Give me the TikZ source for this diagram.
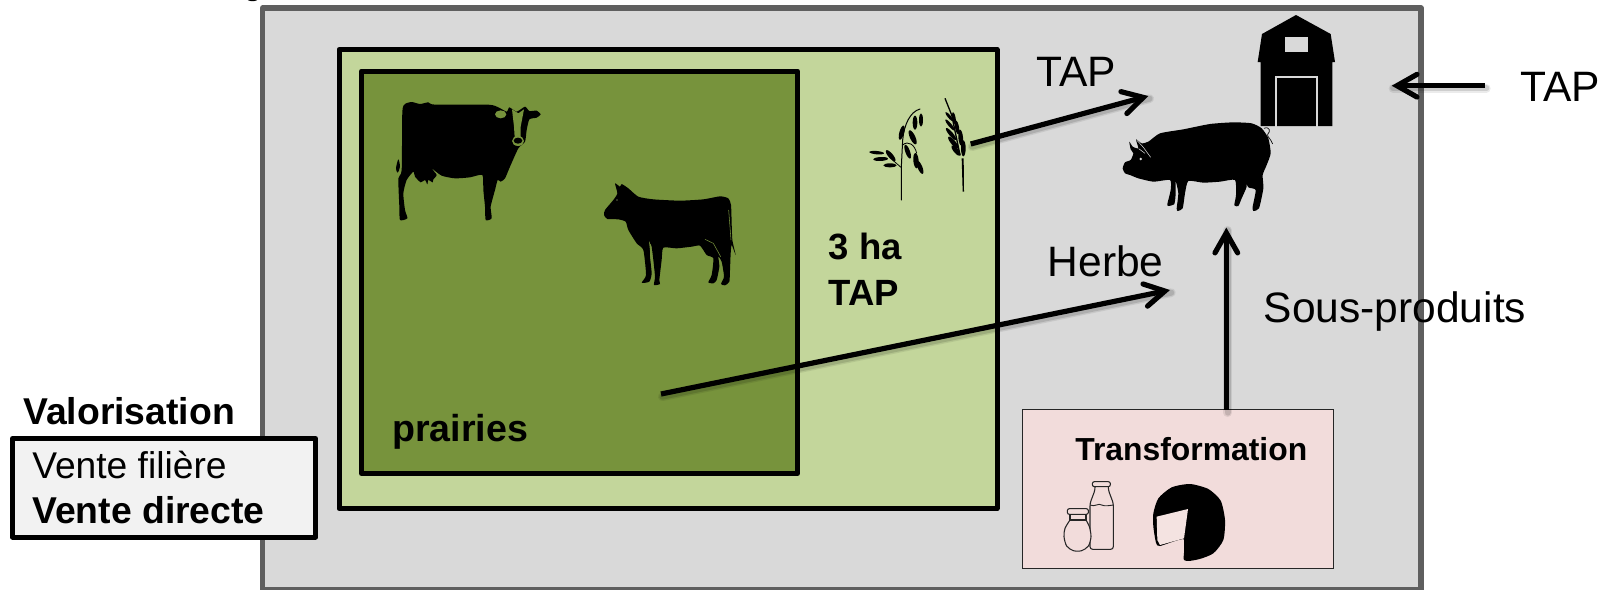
\documentclass[tikz,border=0pt]{standalone}
\usepackage{fontspec}
\setmainfont{Liberation Sans}
\usetikzlibrary{arrows.meta}
\definecolor{fermegris}{HTML}{D9D9D9}
\definecolor{contour}{HTML}{5F5F5F}
\definecolor{vertclair}{HTML}{C3D69B}
\definecolor{vertfonce}{HTML}{77933C}
\definecolor{rose}{HTML}{F2DCDB}
\definecolor{rosepale}{HTML}{F4E3E1}
\definecolor{boite}{HTML}{F2F2F2}
\newcommand\fs[1]{\fontsize{#1}{#1}\selectfont}
\newcommand\grain[5]{\fill[shift={(#1,#2)},rotate=#3] (0,0) ellipse [x radius=#4,y radius=#5];}
\newcommand\ombre[3]{%
  \draw[black,opacity=.08,line width=6.5pt,line cap=round,transform canvas={shift={(1pt,-2pt)}}] (#1) -- (#2);
  \draw[black,opacity=.12,line width=4.5pt,line cap=round,transform canvas={shift={(1pt,-2pt)}}] (#1) -- (#2);
  \draw[fleche,line width=#3] (#1) -- (#2);}
\tikzset{
  cadre/.style={draw=black,line width=3.75pt,line join=round},
  lab/.style={inner sep=0pt,anchor=base west,text=black},
  grand/.style={lab,font=\fs{31.9}},
  moyen/.style={lab,font=\fs{27.9}},
  gras/.style={lab,font=\fs{28}\bfseries},
  fleche/.style={draw=black,-{Straight Barb[length=15pt,width=17pt,line width=3.9pt,line cap=round,line join=miter]}},
  trait/.style={draw=#1,line cap=round,line join=round},
}
\begin{document}
\begin{tikzpicture}[x=.75pt,y=-.75pt]
\clip (0,0) rectangle (1612,589);
% fragment at the top edge
\fill[black] (252.5,-1.8) ellipse [x radius=6,y radius=3];
% boxes
\draw[fill=fermegris,draw=contour,line width=3.9pt,line join=round] (262.5,8) rectangle (1421,590);
\draw[cadre,fill=vertclair] (339,49.5) rectangle (997,508.5);
\draw[cadre,fill=vertfonce] (361.5,71) rectangle (797.5,473.5);
\draw[fill=rose,draw=black!85,line width=.8pt] (1022.3,409.5) rectangle (1333.7,568.3);
\draw[cadre,fill=boite] (12.5,438.5) rectangle (315.5,537);

% cows (traced at 3x from origin 370,80)
\begin{scope}[shift={(370,80)},x=.25pt,y=-.25pt]
\fill[black] plot[smooth cycle,tension=.35] coordinates {(97,95) (105,72) (125,66) (150,72) (175,67) (195,74) (355,74) (385,82) (410,95) (418,82) (440,95) (465,80) (478,93) (500,92) (512,103) (500,113) (478,118) (470,150) (465,185) (445,205) (420,260) (405,295) (392,305) (383,300) (375,330) (362,380) (365,415) (347,420) (345,380) (340,330) (337,285) (300,292) (255,295) (215,287) (185,265) (200,285) (190,298) (188,307) (175,300) (172,313) (165,300) (152,307) (135,290) (130,275) (110,300) (100,340) (105,390) (112,415) (90,420) (88,380) (85,295) (95,270)};
\fill[black] plot[smooth cycle,tension=.5] coordinates {(78,265) (85,238) (90,260) (83,278)};
\fill[vertfonce] (392,103) ellipse [x radius=17,y radius=12];
\fill[vertfonce] (426,88) -- (432,140) -- (434,172) -- (452,172) -- (452,140) -- (462,88) -- (445,100) -- cycle;
\fill[vertfonce] (444,183) ellipse [x radius=18,y radius=15];
\fill[black] (444,182) ellipse [x radius=13,y radius=9];
\fill[black] plot[smooth cycle,tension=.35] coordinates {(735,310) (750,320) (755,312) (775,325) (805,350) (850,358) (930,362) (1000,358) (1050,349) (1075,355) (1083,375) (1085,430) (1087,480) (1097,525) (1085,495) (1082,520) (1080,570) (1078,605) (1065,616) (1053,612) (1062,590) (1055,545) (1045,530) (1048,560) (1040,600) (1030,610) (1015,607) (1025,585) (1030,535) (1010,525) (990,497) (965,500) (920,505) (880,503) (875,540) (868,600) (870,612) (852,615) (855,590) (850,540) (845,500) (840,490) (840,530) (845,580) (838,605) (815,608) (828,585) (820,510) (800,490) (775,450) (767,425) (745,418) (712,417) (702,405) (705,390) (730,360) (742,340)};
\draw[vertfonce,line width=.4pt] (1005,478) -- (1030,490) -- (1052,530);
\draw[vertfonce,line width=.4pt] (1076,390) -- (1083,480);
\draw[vertfonce,line width=.4pt] (838,485) -- (846,560);
\fill[vertclair] (741,360) circle [radius=2];
\end{scope}

% cereals (origin 860,90)
\begin{scope}[shift={(860,90)},x=.25pt,y=-.25pt,black]
\draw[line width=.75pt,line cap=round] (124,330) -- (124,230) -- (128,150) .. controls (132,105) and (150,65) .. (180,57);
\draw[line width=.6pt] (123,232) -- (100,212) -- (80,190);
\draw[line width=.6pt] (128,165) .. controls (145,150) and (165,165) .. (170,190);
\grain{183}{90}{90}{20}{6}
\grain{165}{98}{90}{21}{7}
\grain{125}{128}{75}{22}{7}
\grain{158}{142}{115}{23}{8}
\grain{143}{185}{110}{22}{7}
\grain{168}{212}{95}{23}{8}
\grain{180}{232}{112}{21}{7}
\grain{50}{188}{-5}{22}{5}
\grain{62}{207}{3}{22}{6}
\grain{90}{226}{0}{20}{6}
\grain{92}{197}{130}{21}{7}
% wheat
\draw[line width=1pt] (255,25) -- (275,75) -- (300,195);
\fill (305,205) -- (311,205) -- (312,305) -- (308,305) -- cycle;
\grain{268}{80}{130}{18}{4.5}
\grain{270}{105}{130}{21}{5}
\grain{273}{132}{130}{23}{6}
\grain{280}{158}{130}{23}{7}
\grain{288}{182}{130}{20}{7}
\grain{282}{85}{100}{19}{5}
\grain{291}{112}{100}{21}{6}
\grain{302}{143}{95}{24}{7}
\grain{310}{175}{90}{24}{7}
\end{scope}

% pig (origin 1110,100)
\begin{scope}[shift={(1110,100)},x=.25pt,y=-.25pt]
\fill[black] plot[smooth cycle,tension=.35] coordinates {(38,205) (45,187) (62,180) (70,160) (62,148) (58,125) (68,140) (85,145) (78,118) (95,130) (115,125) (150,100) (220,88) (300,72) (370,67) (425,70) (455,85) (475,115) (482,160) (470,195) (458,225) (460,265) (447,325) (430,333) (428,320) (437,270) (415,262) (405,240) (410,260) (395,295) (385,318) (373,316) (378,285) (375,240) (330,245) (280,248) (235,243) (225,280) (218,325) (203,333) (200,325) (205,280) (197,243) (197,280) (193,312) (175,318) (172,312) (182,270) (180,240) (130,245) (85,235) (60,225) (45,220)};
\draw[fermegris,line width=.4pt] (80,120) -- (100,142) -- (122,172);
\draw[fermegris,line width=.4pt] (86,146) -- (105,160);
\fill[fermegris] (92,177) circle [radius=4];
\draw[black,line width=.5pt] (462,85) .. controls (480,78) and (482,95) .. (473,103) .. controls (470,110) and (482,115) .. (488,132);
\end{scope}

% barn (origin 1240,0)
\begin{scope}[shift={(1240,0)},x=.25pt,y=-.25pt]
\fill[black] (168,45) -- (272,102) -- (285,186) -- (277,186) -- (277,378) -- (62,378) -- (62,186) -- (53,186) -- (66,102) -- cycle;
\fill[fermegris] (135,112) rectangle (204,156);
\draw[fermegris,line width=1.3pt] (107,380) -- (107,232) -- (232,232) -- (232,380);
\end{scope}

% dairy products (origin 1050,470)
\begin{scope}[shift={(1050,470)},x=.25pt,y=-.25pt]
\draw[black!85,line width=.8pt,line join=round,rounded corners=2pt] (135,50) -- (135,60) -- (120,100) -- (120,238) -- (190,238) -- (190,100) -- (175,60) -- (175,50);
\draw[black!85,line width=.8pt,rounded corners=1.5pt] (127,35) rectangle (181,50);
\draw[black!85,line width=.7pt] (120,105) .. controls (135,112) and (145,98) .. (155,105) .. controls (165,110) and (180,106) .. (190,105);
\draw[black!85,fill=rose,line width=.8pt] plot[smooth,tension=.5] coordinates {(60,150) (45,175) (42,200) (50,228) (70,242) (95,242) (115,228) (123,200) (118,170) (108,150)} -- cycle;
\draw[black!85,fill=rose,line width=.8pt] (60,133) rectangle (108,150);
\draw[black!85,fill=rose,line width=.8pt,rounded corners=1.5pt] (52,116) rectangle (115,133);
\fill[black] plot[smooth cycle,tension=.4] coordinates {(310,130) (325,85) (365,52) (420,42) (475,57) (512,92) (525,150) (520,210) (490,250) (445,268) (402,270) (402,208) (330,228) (318,218) (310,170)};
\fill[black] (402,208) -- (402,270) -- (440,268) -- (440,200) -- cycle;
\fill[rosepale,line join=round] (320,140) -- (414,117) -- (402,205) -- (330,225) -- (322,210) -- cycle;
\end{scope}

% connector ends
\coordinate (epi) at (970.7,144);
\coordinate (cibleTAP) at (1148.3,96);
\coordinate (prairie) at (661,394);
\coordinate (cibleHerbe) at (1170,290);
\coordinate (transfoHaut) at (1226.3,410);
\coordinate (ciblePorc) at (1226.3,227.6);
\coordinate (tapExt) at (1485,85.7);
\coordinate (cibleFerme) at (1391.7,85.7);
\ombre{epi}{cibleTAP}{3.9pt}
\ombre{prairie}{cibleHerbe}{3.9pt}
\ombre{transfoHaut}{ciblePorc}{3.4pt}
\ombre{tapExt}{cibleFerme}{3.6pt}

% texts
\node[grand] (tTAPa) at (1036,86) {TAP};
\node[grand] (tTAPb) at (1520,101.5) {TAP};
\node[grand] (tHerbe) at (1047.5,276.5) {Herbe};
\node[grand] (tSous) at (1263.5,322) {Sous-produits};
\node[lab,font=\fs{27.4}\bfseries] (tHa) at (828.3,259.5) {3 ha};
\node[lab,font=\fs{27.4}\bfseries] (tTAPc) at (828.3,305) {TAP};
\node[lab,font=\fs{28.2}\bfseries] (tPrairies) at (392,441) {prairies};
\node[lab,font=\fs{23.9}\bfseries] (tTransfo) at (1075,460) {Transformation};
\node[gras] (tValo) at (23,424) {Valorisation};
\node[moyen] (tFiliere) at (32,478) {Vente filière};
\node[gras] (tDirecte) at (32,523.3) {Vente directe};
\end{tikzpicture}
\end{document}
